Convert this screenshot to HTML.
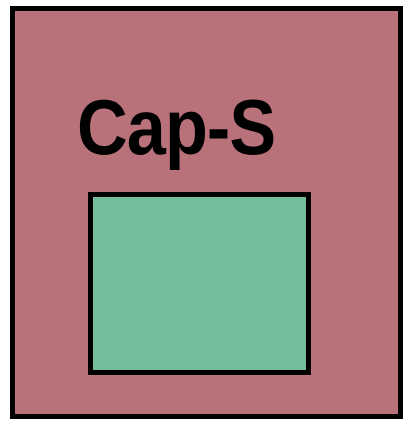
<!DOCTYPE html>
<html><head><style>
html,body{margin:0;padding:0;background:#fff;width:410px;height:427px;overflow:hidden;position:relative}
#outer{position:absolute;left:10px;top:6px;width:383px;height:403px;border:5px solid #000;background:#BA727A}
#title{position:absolute;left:77px;top:88px;font:bold 78px "Liberation Sans",sans-serif;color:#000;transform:scaleX(0.9);transform-origin:0 0;line-height:1;white-space:nowrap;letter-spacing:-1px}
#inner{position:absolute;left:88px;top:192px;width:213px;height:173px;border:5px solid #000;background:#74BC9C}
</style></head><body>
<div id="outer"></div>
<div id="title">Cap-S</div>
<div id="inner"></div>
</body></html>
